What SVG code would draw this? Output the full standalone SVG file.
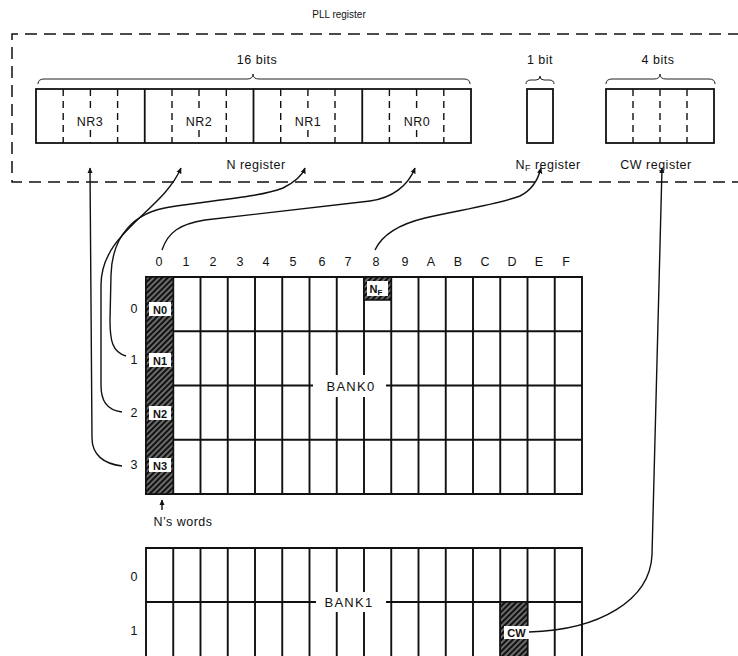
<svg xmlns="http://www.w3.org/2000/svg" width="738" height="656" viewBox="0 0 738 656">
<style>
text{font-family:"Liberation Sans",Arial,sans-serif;fill:#111;}
.lbl{font-size:12.5px;letter-spacing:0.5px;}
.hdr{font-size:12.5px;text-anchor:middle;}
.reg{fill:#fff;stroke:#111;stroke-width:1.8;}
.dash{stroke:#111;stroke-width:1.4;stroke-dasharray:7 5;fill:none;}
.bdash{stroke:#111;stroke-width:1.5;stroke-dasharray:12 7;fill:none;}
.solid{stroke:#111;stroke-width:1.8;fill:none;}
.grid{stroke:#111;stroke-width:1.9;fill:none;}
.brace{stroke:#222;stroke-width:1;fill:none;}
.conn{stroke:#111;stroke-width:1.4;fill:none;marker-end:url(#ah);}
.tag{fill:#fff;}
.tagt{font-size:11px;font-weight:bold;text-anchor:middle;}
.bank{font-size:13px;letter-spacing:1.3px;text-anchor:middle;}
</style>
<defs>
<marker id="ah" viewBox="0 0 10 10" refX="9" refY="5" markerWidth="6" markerHeight="7" markerUnits="userSpaceOnUse" orient="auto">
<path d="M0 0.5 L10 5 L0 9.5 Z" fill="#111"/>
</marker>
<pattern id="hatch" patternUnits="userSpaceOnUse" width="4" height="4" patternTransform="rotate(45)">
<rect width="4" height="4" fill="#111"/>
<line x1="1" y1="0" x2="1" y2="4" stroke="#fff" stroke-width="0.75"/>
</pattern>
</defs>
<rect width="738" height="656" fill="#fff"/>

<g id="pll-register">
<text x="339" y="18" style="font-size:10px" text-anchor="middle">PLL register</text>
<path class="bdash" d="M740 34 L12 34 L12 182 L740 182"/>
</g>

<g id="n-register">
<text class="lbl" x="257" y="64" text-anchor="middle">16 bits</text>
<path class="brace" d="M38 84 Q38 79 44 79 L247 79 Q253 79 253 74 Q253 79 259 79 L464 79 Q470 79 470 84"/>
<rect class="reg" x="36" y="89" width="435" height="54"/>
<path class="solid" d="M144.75 89 V143 M253.5 89 V143 M362.25 89 V143"/>
<path class="dash" d="M63.2 89 V143 M117.6 89 V143 M172 89 V143 M226.3 89 V143 M280.7 89 V143 M335 89 V143 M389.4 89 V143 M443.8 89 V143"/>
<path class="dash" d="M90.4 89 V110 M90.4 130 V143 M199 89 V110 M199 130 V143 M307.9 89 V110 M307.9 130 V143 M416.6 89 V110 M416.6 130 V143"/>
<text class="lbl" x="90" y="126" text-anchor="middle">NR3</text>
<text class="lbl" x="199" y="126" text-anchor="middle">NR2</text>
<text class="lbl" x="308" y="126" text-anchor="middle">NR1</text>
<text class="lbl" x="417" y="126" text-anchor="middle">NR0</text>
<text class="lbl" x="256" y="169" text-anchor="middle">N register</text>
</g>

<g id="nf-register">
<text class="lbl" x="540" y="64" text-anchor="middle">1 bit</text>
<path class="brace" d="M526 84 Q526 80 531 80 L536 80 Q540 80 540 76 Q540 80 544 80 L549 80 Q554 80 554 84"/>
<rect class="reg" x="527" y="89" width="26" height="54"/>
<text class="lbl" x="548" y="169" text-anchor="middle">N<tspan font-size="9" dy="2">F</tspan><tspan dy="-2"> register</tspan></text>
</g>

<g id="cw-register">
<text class="lbl" x="658" y="64" text-anchor="middle">4 bits</text>
<path class="brace" d="M606 84 Q606 79 612 79 L654 79 Q660 79 660 74 Q660 79 666 79 L709 79 Q715 79 715 84"/>
<rect class="reg" x="606" y="89" width="108" height="54"/>
<path class="dash" d="M633 89 V143 M660 89 V143 M687 89 V143"/>
<text class="lbl" x="656" y="169" text-anchor="middle">CW register</text>
</g>

<g id="bank0">
<text class="hdr" x="159" y="266">0</text><text class="hdr" x="186" y="266">1</text><text class="hdr" x="213" y="266">2</text><text class="hdr" x="240" y="266">3</text>
<text class="hdr" x="266" y="266">4</text><text class="hdr" x="293" y="266">5</text><text class="hdr" x="322" y="266">6</text><text class="hdr" x="348" y="266">7</text>
<text class="hdr" x="376" y="266">8</text><text class="hdr" x="405" y="266">9</text><text class="hdr" x="431" y="266">A</text><text class="hdr" x="458" y="266">B</text>
<text class="hdr" x="485" y="266">C</text><text class="hdr" x="512" y="266">D</text><text class="hdr" x="539" y="266">E</text><text class="hdr" x="566" y="266">F</text>
<text class="hdr" x="134" y="313">0</text>
<text class="hdr" x="134" y="364">1</text>
<text class="hdr" x="134" y="417">2</text>
<text class="hdr" x="134" y="469">3</text>
<path class="grid" d="M146 277 H582 V494 H146 Z M146 331.25 H582 M146 385.5 H582 M146 439.75 H582
M173.25 277 V494 M200.5 277 V494 M227.75 277 V494 M255 277 V494 M282.25 277 V494 M309.5 277 V494 M336.75 277 V494 M364 277 V494
M391.25 277 V494 M418.5 277 V494 M445.75 277 V494 M473 277 V494 M500.25 277 V494 M527.5 277 V494 M554.75 277 V494"/>
<rect x="146" y="277" width="27.25" height="217" fill="url(#hatch)" stroke="#111" stroke-width="1.5"/>
<rect class="tag" x="149" y="302" width="22" height="14"/><text class="tagt" x="160" y="313.5">N0</text>
<rect class="tag" x="149" y="353" width="22" height="14"/><text class="tagt" x="160" y="364.5">N1</text>
<rect class="tag" x="149" y="406" width="22" height="14"/><text class="tagt" x="160" y="417.5">N2</text>
<rect class="tag" x="149" y="458" width="22" height="14"/><text class="tagt" x="160" y="469.5">N3</text>
<rect x="364" y="277" width="27.25" height="23" fill="url(#hatch)" stroke="#111" stroke-width="1.5"/>
<rect class="tag" x="367" y="281" width="21" height="15"/>
<text class="tagt" x="376" y="292.5">N<tspan font-size="8" dy="2">F</tspan></text>
<rect class="tag" x="313" y="375" width="73" height="22"/>
<text class="bank" x="351" y="391">BANK0</text>
<path d="M162 510 V500" stroke="#111" stroke-width="1.4" marker-end="url(#ah)"/>
<text class="lbl" x="183" y="526" text-anchor="middle">N’s words</text>
</g>

<g id="bank1">
<text class="hdr" x="134" y="581">0</text>
<text class="hdr" x="134" y="635">1</text>
<path class="grid" d="M146 660 V548 H582 V660 M146 602 H582
M173.25 548 V660 M200.5 548 V660 M227.75 548 V660 M255 548 V660 M282.25 548 V660 M309.5 548 V660 M336.75 548 V660 M364 548 V660
M391.25 548 V660 M418.5 548 V660 M445.75 548 V660 M473 548 V660 M500.25 548 V660 M527.5 548 V660 M554.75 548 V660"/>
<rect x="500.25" y="602" width="27.25" height="60" fill="url(#hatch)" stroke="#111" stroke-width="1.5"/>
<rect class="tag" x="504" y="626" width="25" height="13"/><text class="tagt" x="516.5" y="636.5">CW</text>
<rect class="tag" x="316" y="592" width="70" height="20"/>
<text class="bank" x="349" y="607">BANK1</text>
</g>

<g id="connectors">
<path class="conn" d="M122 466 C104 464 92 455 92 438 L90 168"/>
<path class="conn" d="M122 412 C106 410 101 400 101 385 L101 285 C101 232 162 212 181 168"/>
<path class="conn" d="M126 356 C112 352 110 340 110 320 L111 275 C112 235 135 212 170 207 C215 200 260 197 283 188 C295 182 302 176 305 168"/>
<path class="conn" d="M162 250 C168 232 180 224 205 220 L370 201 C392 198 408 186 415 168"/>
<path class="conn" d="M375 250 C382 235 400 224 425 218 C460 210 500 204 520 196 C532 190 538 180 541 168"/>
<path class="conn" d="M529 632 C600 630 650 600 652 555 L662 168"/>
</g>
</svg>
